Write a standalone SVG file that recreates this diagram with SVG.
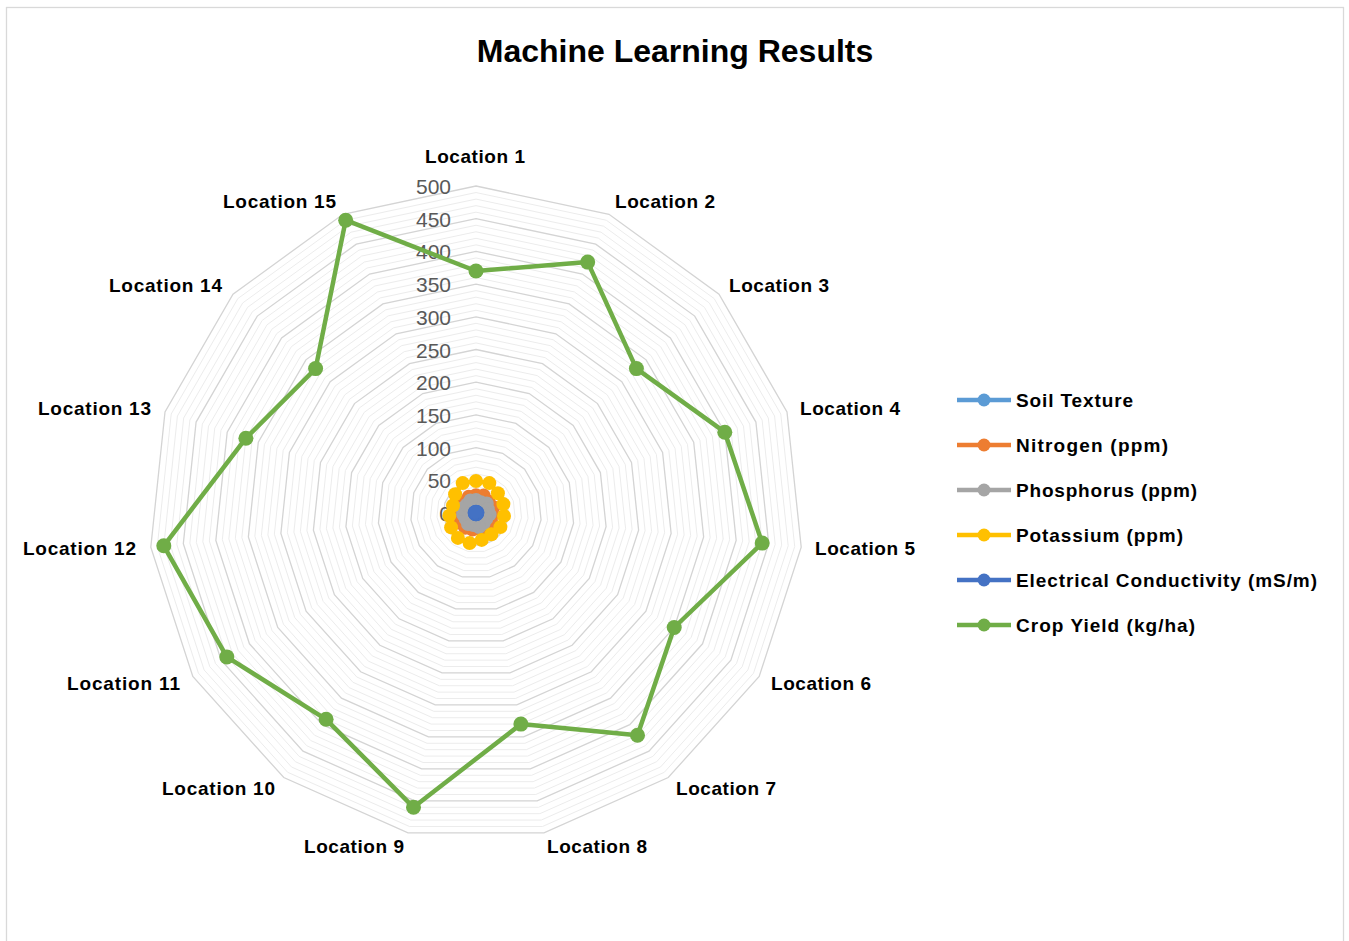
<svg xmlns="http://www.w3.org/2000/svg" xmlns:xlink="http://www.w3.org/1999/xlink" width="1349" height="941" viewBox="0 0 1349 941">
<style>
.minor{fill:none;stroke:#ececec;stroke-width:1}
.major{fill:none;stroke:#d4d4d4;stroke-width:1.3}
.ax{font-family:"Liberation Sans",Arial,sans-serif;font-size:21px;fill:#595959;text-anchor:end}
.cat{font-family:"Liberation Sans",Arial,sans-serif;font-size:19px;font-weight:bold;fill:#000}
.leg{font-family:"Liberation Sans",Arial,sans-serif;font-size:19px;font-weight:bold;fill:#000}
.title{font-family:"Liberation Sans",Arial,sans-serif;font-size:32px;font-weight:bold;fill:#000;text-anchor:middle}
.ser{fill:none;stroke-width:4.5;stroke-linejoin:round}
</style>
<defs>
<polygon id="ring" vector-effect="non-scaling-stroke" points="0,-100 40.674,-91.355 74.314,-66.913 95.106,-30.902 99.452,10.453 86.603,50 58.779,80.902 20.791,97.815 -20.791,97.815 -58.779,80.902 -86.603,50 -99.452,10.453 -95.106,-30.902 -74.314,-66.913 -40.674,-91.355"/>
<marker id="m1" markerUnits="userSpaceOnUse" markerWidth="16" markerHeight="16" refX="8" refY="8" overflow="visible"><circle cx="8" cy="8" r="7" fill="#5B9BD5"/></marker>
<marker id="m2" markerUnits="userSpaceOnUse" markerWidth="16" markerHeight="16" refX="8" refY="8" overflow="visible"><circle cx="8" cy="8" r="7" fill="#ED7D31"/></marker>
<marker id="m3" markerUnits="userSpaceOnUse" markerWidth="16" markerHeight="16" refX="8" refY="8" overflow="visible"><circle cx="8" cy="8" r="7" fill="#A5A5A5"/></marker>
<marker id="m4" markerUnits="userSpaceOnUse" markerWidth="16" markerHeight="16" refX="8" refY="8" overflow="visible"><circle cx="8" cy="8" r="7" fill="#FFC000"/></marker>
<marker id="m5" markerUnits="userSpaceOnUse" markerWidth="16" markerHeight="16" refX="8" refY="8" overflow="visible"><circle cx="8" cy="8" r="7" fill="#4472C4"/></marker>
<marker id="m6" markerUnits="userSpaceOnUse" markerWidth="16" markerHeight="16" refX="8" refY="8" overflow="visible"><circle cx="8" cy="8" r="7.5" fill="#70AD47"/></marker>
</defs>
<rect x="0" y="0" width="1349" height="941" fill="#fff"/>
<rect x="6.5" y="7.5" width="1337" height="945" fill="#fff" stroke="#d9d9d9" stroke-width="1.3"/>
<text class="title" x="675" y="62">Machine Learning Results</text>
<g id="gridlines">
<g class="minor">
<use xlink:href="#ring" transform="translate(476 513) scale(0.0654)"/>
<use xlink:href="#ring" transform="translate(476 513) scale(0.1308)"/>
<use xlink:href="#ring" transform="translate(476 513) scale(0.1962)"/>
<use xlink:href="#ring" transform="translate(476 513) scale(0.2616)"/>
<use xlink:href="#ring" transform="translate(476 513) scale(0.3924)"/>
<use xlink:href="#ring" transform="translate(476 513) scale(0.4578)"/>
<use xlink:href="#ring" transform="translate(476 513) scale(0.5232)"/>
<use xlink:href="#ring" transform="translate(476 513) scale(0.5886)"/>
<use xlink:href="#ring" transform="translate(476 513) scale(0.7194)"/>
<use xlink:href="#ring" transform="translate(476 513) scale(0.7848)"/>
<use xlink:href="#ring" transform="translate(476 513) scale(0.8502)"/>
<use xlink:href="#ring" transform="translate(476 513) scale(0.9156)"/>
<use xlink:href="#ring" transform="translate(476 513) scale(1.0464)"/>
<use xlink:href="#ring" transform="translate(476 513) scale(1.1118)"/>
<use xlink:href="#ring" transform="translate(476 513) scale(1.1772)"/>
<use xlink:href="#ring" transform="translate(476 513) scale(1.2426)"/>
<use xlink:href="#ring" transform="translate(476 513) scale(1.3734)"/>
<use xlink:href="#ring" transform="translate(476 513) scale(1.4388)"/>
<use xlink:href="#ring" transform="translate(476 513) scale(1.5042)"/>
<use xlink:href="#ring" transform="translate(476 513) scale(1.5696)"/>
<use xlink:href="#ring" transform="translate(476 513) scale(1.7004)"/>
<use xlink:href="#ring" transform="translate(476 513) scale(1.7658)"/>
<use xlink:href="#ring" transform="translate(476 513) scale(1.8312)"/>
<use xlink:href="#ring" transform="translate(476 513) scale(1.8966)"/>
<use xlink:href="#ring" transform="translate(476 513) scale(2.0274)"/>
<use xlink:href="#ring" transform="translate(476 513) scale(2.0928)"/>
<use xlink:href="#ring" transform="translate(476 513) scale(2.1582)"/>
<use xlink:href="#ring" transform="translate(476 513) scale(2.2236)"/>
<use xlink:href="#ring" transform="translate(476 513) scale(2.3544)"/>
<use xlink:href="#ring" transform="translate(476 513) scale(2.4198)"/>
<use xlink:href="#ring" transform="translate(476 513) scale(2.4852)"/>
<use xlink:href="#ring" transform="translate(476 513) scale(2.5506)"/>
<use xlink:href="#ring" transform="translate(476 513) scale(2.6814)"/>
<use xlink:href="#ring" transform="translate(476 513) scale(2.7468)"/>
<use xlink:href="#ring" transform="translate(476 513) scale(2.8122)"/>
<use xlink:href="#ring" transform="translate(476 513) scale(2.8776)"/>
<use xlink:href="#ring" transform="translate(476 513) scale(3.0084)"/>
<use xlink:href="#ring" transform="translate(476 513) scale(3.0738)"/>
<use xlink:href="#ring" transform="translate(476 513) scale(3.1392)"/>
<use xlink:href="#ring" transform="translate(476 513) scale(3.2046)"/>
</g>
<g class="major">
<use xlink:href="#ring" transform="translate(476 513) scale(0.327)"/>
<use xlink:href="#ring" transform="translate(476 513) scale(0.654)"/>
<use xlink:href="#ring" transform="translate(476 513) scale(0.981)"/>
<use xlink:href="#ring" transform="translate(476 513) scale(1.308)"/>
<use xlink:href="#ring" transform="translate(476 513) scale(1.635)"/>
<use xlink:href="#ring" transform="translate(476 513) scale(1.962)"/>
<use xlink:href="#ring" transform="translate(476 513) scale(2.289)"/>
<use xlink:href="#ring" transform="translate(476 513) scale(2.616)"/>
<use xlink:href="#ring" transform="translate(476 513) scale(2.943)"/>
<use xlink:href="#ring" transform="translate(476 513) scale(3.27)"/>
</g>
</g>
<g id="value-axis">
<text class="ax" x="451" y="521">0</text>
<text class="ax" x="451" y="488.3">50</text>
<text class="ax" x="451" y="455.6">100</text>
<text class="ax" x="451" y="422.9">150</text>
<text class="ax" x="451" y="390.2">200</text>
<text class="ax" x="451" y="357.5">250</text>
<text class="ax" x="451" y="324.8">300</text>
<text class="ax" x="451" y="292.1">350</text>
<text class="ax" x="451" y="259.4">400</text>
<text class="ax" x="451" y="226.7">450</text>
<text class="ax" x="451" y="194">500</text>
</g>
<g id="categories">
<text class="cat" x="425" y="163" textLength="100">Location 1</text>
<text class="cat" x="615" y="208" textLength="100">Location 2</text>
<text class="cat" x="729" y="292" textLength="100">Location 3</text>
<text class="cat" x="800" y="415" textLength="100">Location 4</text>
<text class="cat" x="815" y="555" textLength="100">Location 5</text>
<text class="cat" x="771" y="690" textLength="100">Location 6</text>
<text class="cat" x="676" y="795" textLength="100">Location 7</text>
<text class="cat" x="547" y="853" textLength="100">Location 8</text>
<text class="cat" x="304" y="853" textLength="100">Location 9</text>
<text class="cat" x="162" y="795" textLength="113">Location 10</text>
<text class="cat" x="67" y="690" textLength="113">Location 11</text>
<text class="cat" x="23" y="555" textLength="113">Location 12</text>
<text class="cat" x="38" y="415" textLength="113">Location 13</text>
<text class="cat" x="109" y="292" textLength="113">Location 14</text>
<text class="cat" x="223" y="208" textLength="113">Location 15</text>
</g>
<g id="series">
<polygon id="soil-texture" class="ser" stroke="#5B9BD5" marker-start="url(#m1)" marker-mid="url(#m1)" points="476,512.3 476.3,512.4 476.5,512.5 476.7,512.8 476.7,513.1 476.6,513.4 476.4,513.6 476.1,513.7 475.9,513.7 475.6,513.6 475.4,513.4 475.3,513.1 475.3,512.8 475.5,512.5 475.7,512.4"/>
<polygon id="nitrogen" class="ser" stroke="#ED7D31" marker-start="url(#m2)" marker-mid="url(#m2)" points="476,495.3 483.7,495.6 488.6,501.6 493.4,507.3 492.3,514.7 491.3,521.9 487.2,528.4 479.3,528.4 472.5,529.6 465.2,527.8 459.5,522.5 459.1,514.8 458.6,507.3 463.8,502 468.8,496.8"/>
<polygon id="phosphorus" class="ser" stroke="#A5A5A5" marker-start="url(#m3)" marker-mid="url(#m3)" points="476,500 480.8,502.2 486.7,503.4 487.8,509.2 489.6,514.4 486.2,518.9 483.6,523.5 479,527.1 473.4,525.1 468,524.1 465.8,518.9 463.1,514.4 462.3,508.6 466.8,504.7 470.4,500.5"/>
<polygon id="potassium" class="ser" stroke="#FFC000" marker-start="url(#m4)" marker-mid="url(#m4)" points="476,480.95 489.3,483.1 497.9,493.3 503.4,504.1 504,515.9 500.4,527.1 491.4,534.2 481.7,539.9 469.6,543.1 457.9,537.9 451.1,527.4 449.3,515.8 453,505.5 455.1,494.2 462.7,483.1"/>
<polygon id="electrical-conductivity" class="ser" stroke="#4472C4" marker-start="url(#m5)" marker-mid="url(#m5)" points="476,511.7 476.5,511.9 477,512.2 477.3,512.6 477.3,513.1 477,513.6 476.6,514 476.2,514.3 475.8,514.3 475.3,514 474.9,513.6 474.7,513.1 474.8,512.6 475,512.2 475.5,511.9"/>
<polygon id="crop-yield" class="ser" stroke="#70AD47" marker-start="url(#m6)" marker-mid="url(#m6)" points="476,271 587.7,262.1 636.4,368.6 724.8,432.2 762.2,543.1 674.2,627.5 637.5,735.2 520.9,724.1 413.5,807.3 326.1,719.3 226.8,656.9 163.8,545.8 245.9,438.2 315.6,368.6 345.7,220.2"/>
</g>
<g id="legend">
<g id="leg-soil"><line x1="957" y1="400" x2="1011" y2="400" stroke="#5B9BD5" stroke-width="4.5"/><circle cx="984" cy="400" r="6.5" fill="#5B9BD5"/><text class="leg" x="1016" y="406.5" textLength="117">Soil Texture</text></g>
<g id="leg-nitrogen"><line x1="957" y1="445" x2="1011" y2="445" stroke="#ED7D31" stroke-width="4.5"/><circle cx="984" cy="445" r="6.5" fill="#ED7D31"/><text class="leg" x="1016" y="451.5" textLength="152">Nitrogen (ppm)</text></g>
<g id="leg-phosphorus"><line x1="957" y1="490" x2="1011" y2="490" stroke="#A5A5A5" stroke-width="4.5"/><circle cx="984" cy="490" r="6.5" fill="#A5A5A5"/><text class="leg" x="1016" y="496.5" textLength="181">Phosphorus (ppm)</text></g>
<g id="leg-potassium"><line x1="957" y1="535" x2="1011" y2="535" stroke="#FFC000" stroke-width="4.5"/><circle cx="984" cy="535" r="6.5" fill="#FFC000"/><text class="leg" x="1016" y="541.5" textLength="167">Potassium (ppm)</text></g>
<g id="leg-ec"><line x1="957" y1="580" x2="1011" y2="580" stroke="#4472C4" stroke-width="4.5"/><circle cx="984" cy="580" r="6.5" fill="#4472C4"/><text class="leg" x="1016" y="586.5" textLength="301">Electrical Conductivity (mS/m)</text></g>
<g id="leg-crop"><line x1="957" y1="625" x2="1011" y2="625" stroke="#70AD47" stroke-width="4.5"/><circle cx="984" cy="625" r="6.5" fill="#70AD47"/><text class="leg" x="1016" y="631.5" textLength="179">Crop Yield (kg/ha)</text></g>
</g>
</svg>
